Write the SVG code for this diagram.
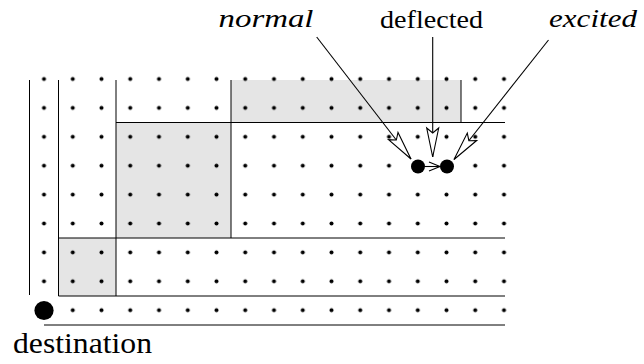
<svg xmlns="http://www.w3.org/2000/svg" width="644" height="364" viewBox="0 0 644 364">
  <style>
    .region { fill: #e5e5e5; stroke: none; }
    .wall { stroke: #000; stroke-width: 1; fill: none; }
    .conn { stroke: #000; stroke-width: 1.1; fill: none; }
    .node { fill: #000; }
    text { font-family: "Liberation Serif", "Times New Roman", "DejaVu Serif", serif; fill: #000; }
    .it { font-style: italic; }
  </style>
  <defs>
    <pattern id="dots" patternUnits="userSpaceOnUse" x="29.625" y="64.55" width="28.75" height="28.9">
      <circle cx="14.375" cy="14.45" r="2" fill="#000"/>
    </pattern>
    <marker id="hollow" markerUnits="userSpaceOnUse" markerWidth="40" markerHeight="20" refX="30" refY="10" orient="auto" overflow="visible">
      <path d="M30,10 L1,4 L6,10 L1,16 Z" fill="#fff" stroke="#000" stroke-width="1.1" stroke-linejoin="miter"/>
    </marker>
    <marker id="open" markerUnits="userSpaceOnUse" markerWidth="14" markerHeight="12" refX="11" refY="5" orient="auto" overflow="visible">
      <path d="M0,0.5 L11,5 L0,9.5" fill="none" stroke="#000" stroke-width="1.1"/>
    </marker>
  </defs>

  <g id="regions">
    <rect class="region" x="58.3" y="238" width="57.7" height="58"/>
    <rect class="region" x="116" y="122.5" width="115" height="115.5"/>
    <rect class="region" x="231" y="80" width="230" height="42.5"/>
  </g>

  <g id="walls">
    <line class="wall" x1="29.5" y1="80" x2="29.5" y2="295"/>
    <line class="wall" x1="58.5" y1="80" x2="58.5" y2="296"/>
    <line class="wall" x1="116" y1="80" x2="116" y2="296"/>
    <line class="wall" x1="231" y1="80" x2="231" y2="238"/>
    <line class="wall" x1="461" y1="80" x2="461" y2="122.5"/>
    <line class="wall" x1="116" y1="122.5" x2="505" y2="122.5"/>
    <line class="wall" x1="58.5" y1="238" x2="505" y2="238"/>
    <line class="wall" x1="58.5" y1="296" x2="505" y2="296"/>
    <line class="wall" x1="44" y1="325" x2="505" y2="325"/>
  </g>

  <g id="grid">
    <rect x="29.625" y="64.55" width="488.75" height="260.1" fill="url(#dots)"/>
  </g>

  <g id="destination">
    <circle class="node" cx="44" cy="310.5" r="9.6"/>
    <text x="13" y="353" font-size="30" textLength="139" lengthAdjust="spacingAndGlyphs">destination</text>
  </g>

  <g id="node-normal">
    <circle class="node" cx="418" cy="166.5" r="7"/>
  </g>
  <g id="node-excited">
    <circle class="node" cx="447" cy="166.5" r="7"/>
  </g>

  <g id="label-normal">
    <text class="it" x="218.5" y="27" font-size="26" textLength="95" lengthAdjust="spacingAndGlyphs">normal</text>
  </g>
  <g id="label-deflected">
    <text x="380" y="28" font-size="26" textLength="103" lengthAdjust="spacingAndGlyphs">deflected</text>
  </g>
  <g id="label-excited">
    <text class="it" x="549" y="27" font-size="26" textLength="88" lengthAdjust="spacingAndGlyphs">excited</text>
  </g>

  <g id="connectors">
    <line class="conn" x1="316.7" y1="37" x2="411" y2="159" marker-end="url(#hollow)"/>
    <line class="conn" x1="432.7" y1="37" x2="432.7" y2="157" marker-end="url(#hollow)"/>
    <line class="conn" x1="548.5" y1="40" x2="454" y2="159.5" marker-end="url(#hollow)"/>
    <line class="conn" x1="425" y1="166.5" x2="440" y2="166.5" marker-end="url(#open)"/>
  </g>
</svg>
